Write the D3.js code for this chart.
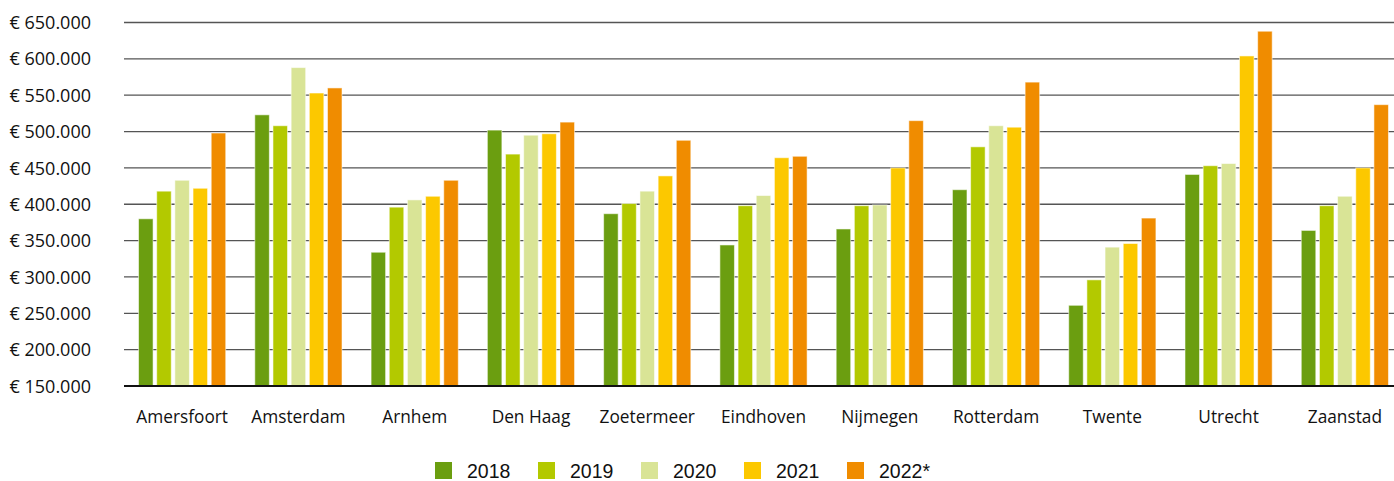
<!DOCTYPE html>
<html><head><meta charset="utf-8">
<script src="https://cdn.jsdelivr.net/npm/d3@7/dist/d3.min.js"></script>
<style>body{margin:0;background:#fff}svg{display:block}</style>
</head><body>
<svg id="chart" width="1394" height="481"></svg>
<script>
const categories = ["Amersfoort","Amsterdam","Arnhem","Den Haag","Zoetermeer","Eindhoven","Nijmegen","Rotterdam","Twente","Utrecht","Zaanstad"];
const seriesNames = ["2018","2019","2020","2021","2022*"];
const v2018 = [380000,523000,334000,502000,387000,344000,366000,420000,261000,441000,364000];
const v2019 = [418000,508000,396000,469000,401000,398000,398000,479000,296000,453000,398000];
const v2020 = [433000,588000,406000,495000,418000,412000,399000,508000,341000,456000,411000];
const v2021 = [422000,553000,411000,497000,439000,464000,450000,506000,346000,604000,450000];
const v2022 = [498000,560000,433000,513000,488000,466000,515000,568000,381000,638000,537000];
const yTicks = [150000,200000,250000,300000,350000,400000,450000,500000,550000,600000,650000];
const colors = ["#6b9e10","#b3c900","#d9e496","#fcc800","#f08c00"];
const seriesValues = [v2018,v2019,v2020,v2021,v2022];

const svg = d3.select("#chart");
const x0 = d3.scaleBand().domain(categories).range([124,1403]).paddingInner(0.25).paddingOuter(0.125);
const x1 = d3.scaleBand().domain(seriesNames).range([0,x0.bandwidth()]).paddingInner(0.2);
const y = d3.scaleLinear().domain([150000,650000]).range([386,22.5]);

const fmt = v => "€ " + d3.format(",")(v).replace(/,/g,".");

// gridlines
const gy = svg.append("g");
gy.selectAll("line.grid").data(yTicks.filter(t=>t!==150000)).join("line")
  .attr("x1",124).attr("x2",1394).attr("y1",d=>y(d)).attr("y2",d=>y(d))
  .attr("stroke","#555").attr("stroke-width",1.3);
const yAxis = d3.axisLeft(y).tickValues(yTicks).tickSize(0).tickPadding(0).tickFormat(fmt);
const ga = svg.append("g").attr("transform","translate(91,0)").call(yAxis);
ga.select(".domain").remove();
ga.selectAll("text").attr("font-family","'Open Sans', sans-serif").attr("font-size","18px").attr("fill","#111").attr("dy","0.34em");

// bars
const groups = svg.append("g").selectAll("g").data(categories).join("g")
  .attr("transform",d=>`translate(${x0(d)},0)`);
groups.selectAll("rect").data((d,i)=>seriesNames.map((s,j)=>({s,j,v:seriesValues[j][i]}))).join("rect")
  .attr("x",d=>x1(d.s)).attr("width",x1.bandwidth())
  .attr("y",d=>y(d.v)).attr("height",d=>y(150000)-y(d.v))
  .attr("fill",d=>colors[d.j]).attr("stroke","rgba(255,255,255,0.55)").attr("stroke-width",1);

// baseline
svg.append("line").attr("x1",124).attr("x2",1394).attr("y1",y(150000)).attr("y2",y(150000))
  .attr("stroke","#111").attr("stroke-width",2);

// x axis labels
const xAxis = d3.axisBottom(x0).tickSize(0).tickPadding(0);
const gx = svg.append("g").attr("transform","translate(0,417)").call(xAxis);
gx.select(".domain").remove();
gx.selectAll("text").attr("font-family","'Open Sans', sans-serif").attr("font-size","17.3px").attr("fill","#111").attr("dy","0.35em");

// legend
const lg = svg.append("g").selectAll("g").data(seriesNames).join("g")
  .attr("transform",(d,i)=>`translate(${435+i*103},462)`);
lg.append("rect").attr("width",17).attr("height",17).attr("fill",(d,i)=>colors[i]);
lg.append("text").attr("x",32).attr("y",9).attr("dy","0.35em").text(d=>d)
  .attr("font-family","'Liberation Sans', Arial, sans-serif").attr("font-size","19.5px").attr("fill","#111");
</script>
</body></html>
